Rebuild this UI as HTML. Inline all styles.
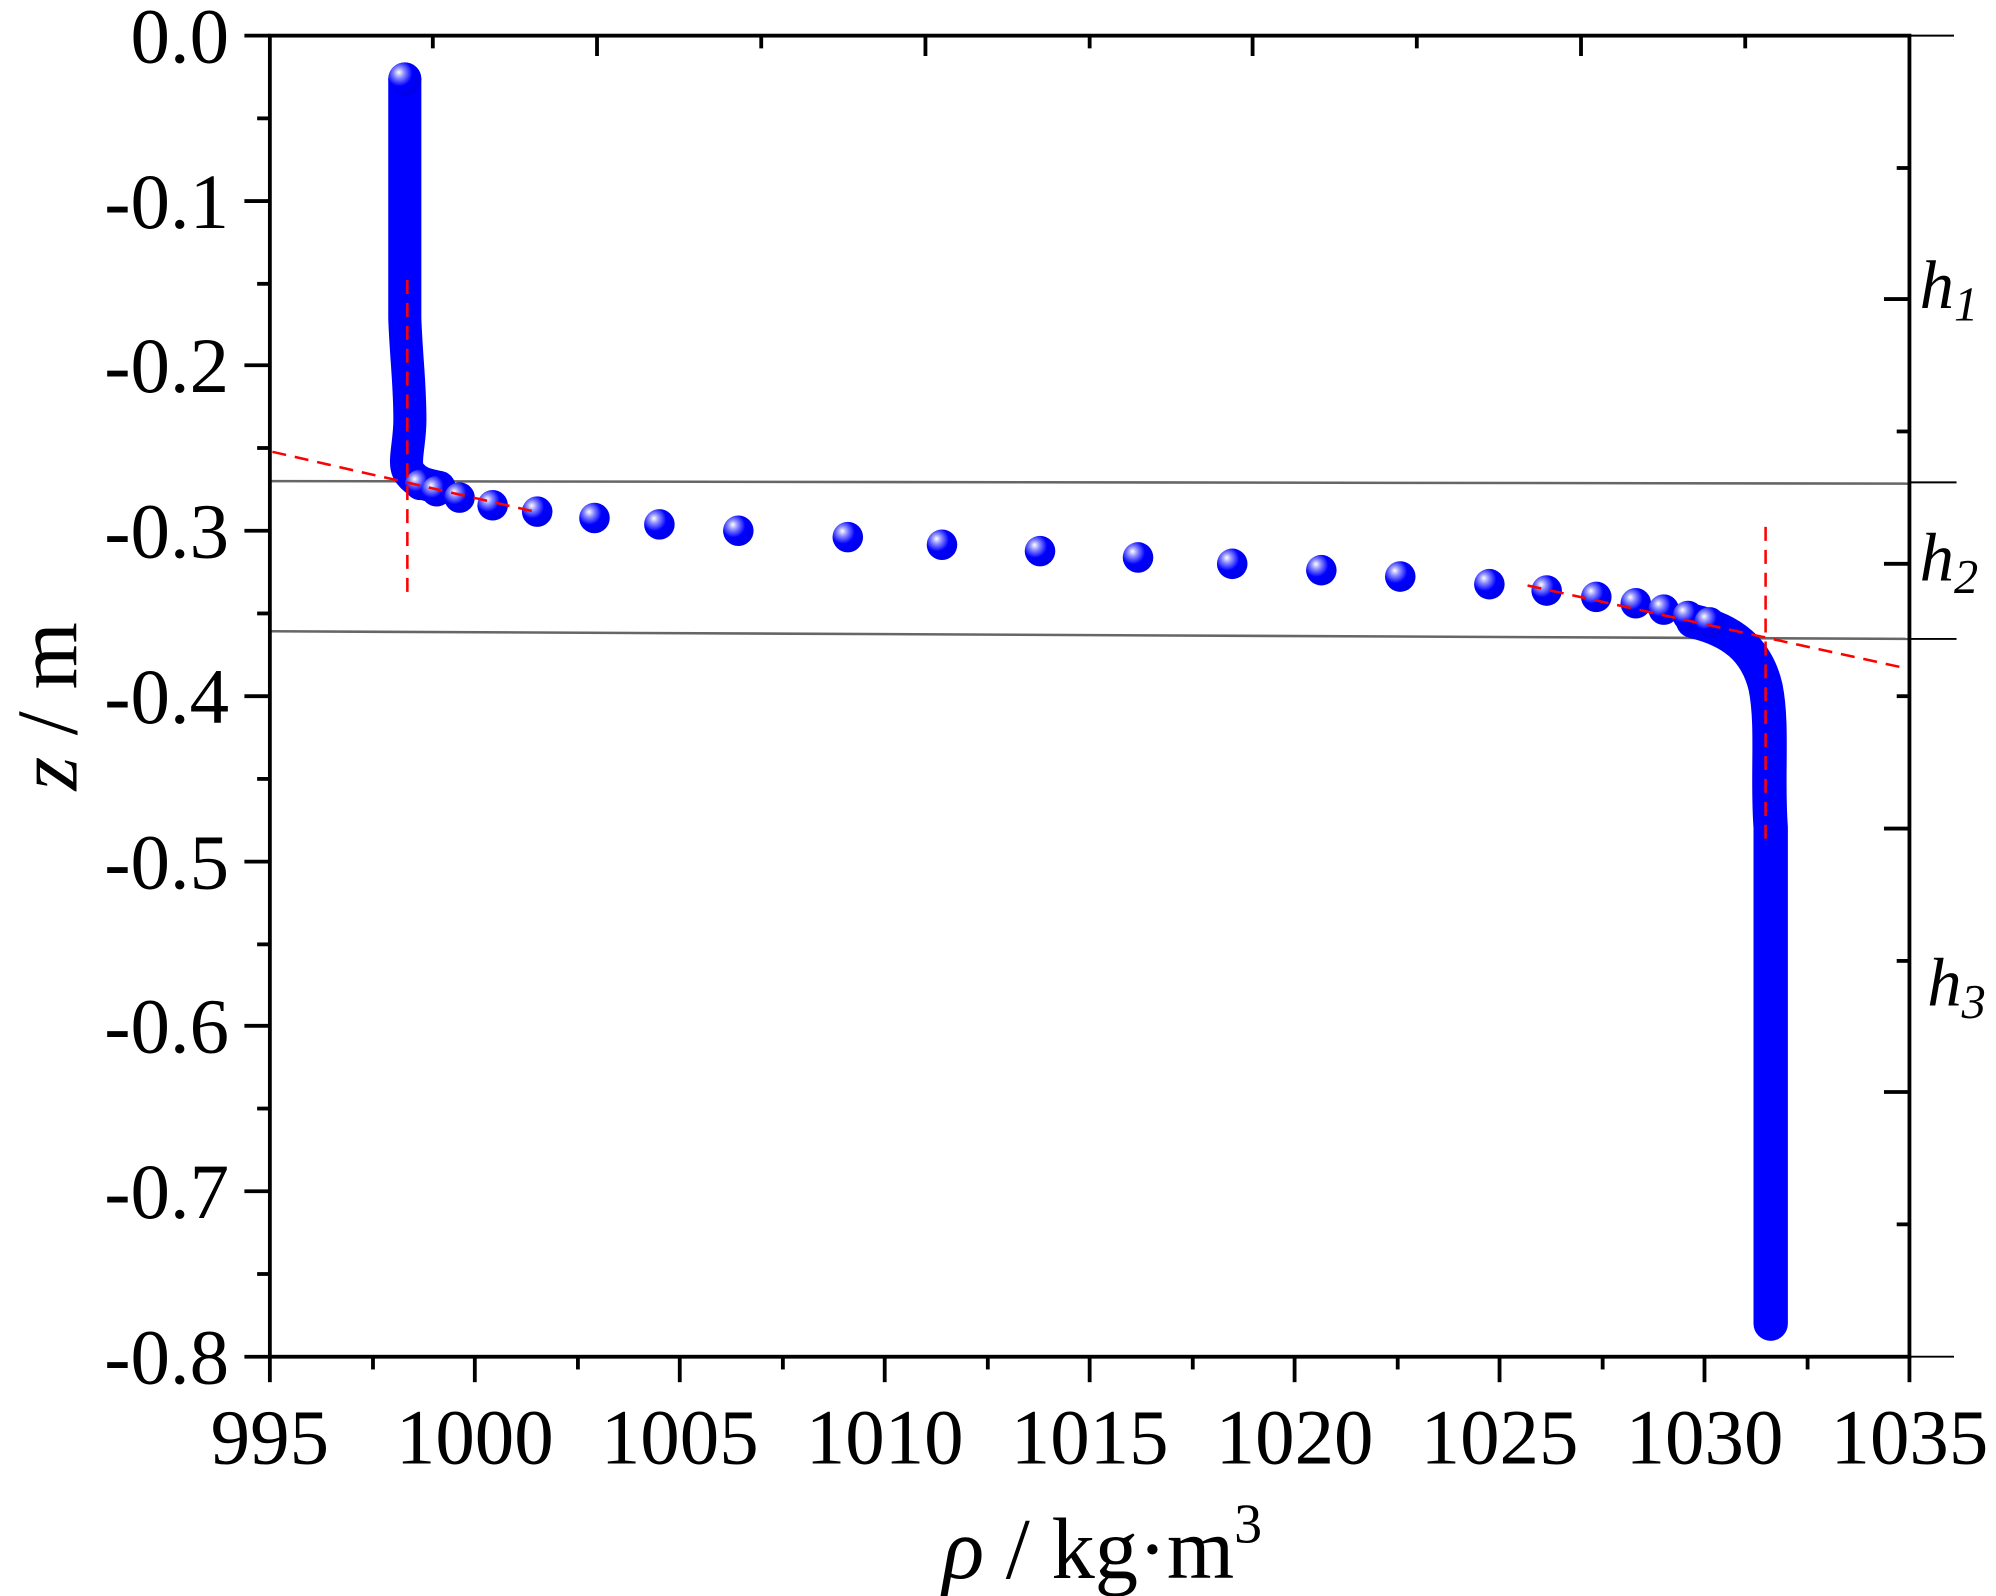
<!DOCTYPE html>
<html><head><meta charset="utf-8"><style>html,body{margin:0;padding:0;background:#fff}svg{display:block}</style></head>
<body>
<svg width="1996" height="1596" viewBox="0 0 1568 1254" preserveAspectRatio="none" xmlns="http://www.w3.org/2000/svg" font-family="'Liberation Serif', serif">
<defs>
<radialGradient id="g" cx="0.35" cy="0.35" r="0.65" fx="0.32" fy="0.3">
<stop offset="0" stop-color="#fff"/><stop offset="0.25" stop-color="#8a8aff"/><stop offset="0.6" stop-color="#0000ff"/><stop offset="1" stop-color="#0000e8"/></radialGradient>
</defs>
<rect width="1568" height="1254" fill="#fff"/>
<line x1="212" y1="378" x2="1500" y2="380" stroke="#666" stroke-width="2"/>
<line x1="1500" y1="379" x2="1537" y2="379" stroke="#000" stroke-width="1.5"/>
<line x1="212" y1="496" x2="1500" y2="502" stroke="#666" stroke-width="2"/>
<line x1="1500" y1="502" x2="1537" y2="502" stroke="#000" stroke-width="1.5"/>
<line x1="1500" y1="28" x2="1535" y2="28" stroke="#000" stroke-width="1.5"/>
<line x1="1500" y1="1066" x2="1535" y2="1066" stroke="#000" stroke-width="1.5"/>
<path d="M318,62 L318,250 C319,280 322,300 322,330 C322,350 316,365 322,372 C328,380 336,381 345,383" fill="none" stroke="#0000ff" stroke-width="26" stroke-linecap="round" stroke-linejoin="round"/>
<path d="M1330,488 C1360,495 1380,510 1387,540 C1393,570 1388,610 1391,650 L1391,1040" fill="none" stroke="#0000ff" stroke-width="27" stroke-linecap="round" stroke-linejoin="round"/>
<circle cx="318" cy="62" r="13" fill="url(#g)"/>
<g fill="url(#g)">
<circle cx="330" cy="381" r="12"/><circle cx="343" cy="386" r="12"/><circle cx="361" cy="391" r="12"/><circle cx="387" cy="397" r="12"/><circle cx="422" cy="402" r="12"/><circle cx="467" cy="407" r="12"/><circle cx="518" cy="412" r="12"/><circle cx="580" cy="417" r="12"/><circle cx="666" cy="422" r="12"/><circle cx="740" cy="428" r="12"/><circle cx="817" cy="433" r="12"/><circle cx="894" cy="438" r="12"/><circle cx="968" cy="443" r="12"/><circle cx="1038" cy="448" r="12"/><circle cx="1100" cy="453" r="12"/><circle cx="1170" cy="459" r="12"/><circle cx="1215" cy="464" r="12"/><circle cx="1254" cy="469" r="12"/><circle cx="1285" cy="474" r="12"/><circle cx="1307" cy="479" r="12"/><circle cx="1326" cy="484" r="12"/><circle cx="1343" cy="489" r="12"/>
</g>
<g stroke="#ff0000" stroke-width="2" stroke-dasharray="11,7" fill="none">
<line x1="320" y1="220" x2="320" y2="470"/>
<line x1="214" y1="355" x2="420" y2="402"/>
<line x1="1200" y1="460" x2="1497" y2="525"/>
<line x1="1387" y1="414" x2="1387" y2="665"/>
</g>
<rect x="212" y="28" width="1288" height="1038" fill="none" stroke="#000" stroke-width="3"/>
<g stroke="#000" stroke-width="3">
<line x1="192" y1="28" x2="212" y2="28"/><line x1="202" y1="93" x2="212" y2="93"/>
<line x1="192" y1="158" x2="212" y2="158"/><line x1="202" y1="223" x2="212" y2="223"/>
<line x1="192" y1="287" x2="212" y2="287"/><line x1="202" y1="352" x2="212" y2="352"/>
<line x1="192" y1="417" x2="212" y2="417"/><line x1="202" y1="482" x2="212" y2="482"/>
<line x1="192" y1="547" x2="212" y2="547"/><line x1="202" y1="612" x2="212" y2="612"/>
<line x1="192" y1="677" x2="212" y2="677"/><line x1="202" y1="742" x2="212" y2="742"/>
<line x1="192" y1="806" x2="212" y2="806"/><line x1="202" y1="871" x2="212" y2="871"/>
<line x1="192" y1="936" x2="212" y2="936"/><line x1="202" y1="1001" x2="212" y2="1001"/>
<line x1="192" y1="1066" x2="212" y2="1066"/>
<line x1="212" y1="1066" x2="212" y2="1086"/><line x1="293" y1="1066" x2="293" y2="1076"/>
<line x1="373" y1="1066" x2="373" y2="1086"/><line x1="454" y1="1066" x2="454" y2="1076"/>
<line x1="534" y1="1066" x2="534" y2="1086"/><line x1="615" y1="1066" x2="615" y2="1076"/>
<line x1="695" y1="1066" x2="695" y2="1086"/><line x1="776" y1="1066" x2="776" y2="1076"/>
<line x1="856" y1="1066" x2="856" y2="1086"/><line x1="937" y1="1066" x2="937" y2="1076"/>
<line x1="1017" y1="1066" x2="1017" y2="1086"/><line x1="1098" y1="1066" x2="1098" y2="1076"/>
<line x1="1178" y1="1066" x2="1178" y2="1086"/><line x1="1259" y1="1066" x2="1259" y2="1076"/>
<line x1="1339" y1="1066" x2="1339" y2="1086"/><line x1="1420" y1="1066" x2="1420" y2="1076"/>
<line x1="1500" y1="1066" x2="1500" y2="1086"/>
<line x1="340" y1="28" x2="340" y2="38"/><line x1="469" y1="28" x2="469" y2="44"/>
<line x1="598" y1="28" x2="598" y2="38"/><line x1="727" y1="28" x2="727" y2="44"/>
<line x1="856" y1="28" x2="856" y2="38"/><line x1="984" y1="28" x2="984" y2="44"/>
<line x1="1113" y1="28" x2="1113" y2="38"/><line x1="1242" y1="28" x2="1242" y2="44"/>
<line x1="1371" y1="28" x2="1371" y2="38"/>
<line x1="1490" y1="132" x2="1500" y2="132"/><line x1="1480" y1="235" x2="1500" y2="235"/>
<line x1="1490" y1="339" x2="1500" y2="339"/><line x1="1480" y1="443" x2="1500" y2="443"/>
<line x1="1490" y1="547" x2="1500" y2="547"/><line x1="1480" y1="651" x2="1500" y2="651"/>
<line x1="1490" y1="755" x2="1500" y2="755"/><line x1="1480" y1="858" x2="1500" y2="858"/>
<line x1="1490" y1="962" x2="1500" y2="962"/>
</g>
<g font-size="62" text-anchor="end" fill="#000">
<text x="180" y="49">0.0</text><text x="180" y="179">-0.1</text><text x="180" y="308">-0.2</text>
<text x="180" y="438">-0.3</text><text x="180" y="568">-0.4</text><text x="180" y="698">-0.5</text>
<text x="180" y="827">-0.6</text><text x="180" y="957">-0.7</text><text x="180" y="1087">-0.8</text>
</g>
<g font-size="62" text-anchor="middle" fill="#000">
<text x="212" y="1150">995</text><text x="373" y="1150">1000</text><text x="534" y="1150">1005</text>
<text x="695" y="1150">1010</text><text x="856" y="1150">1015</text><text x="1017" y="1150">1020</text>
<text x="1178" y="1150">1025</text><text x="1339" y="1150">1030</text><text x="1500" y="1150">1035</text>
</g>
<text transform="translate(60,555) rotate(-90)" font-size="68" text-anchor="middle"><tspan font-style="italic">z</tspan> / m</text>
<text x="866" y="1240" font-size="68" text-anchor="middle"><tspan font-style="italic">ρ</tspan> / kg·m<tspan font-size="44" dy="-28">3</tspan></text>
<g font-style="italic" fill="#000">
<text x="1508" y="242" font-size="54">h<tspan font-size="38" dy="10">1</tspan></text>
<text x="1508" y="456" font-size="54">h<tspan font-size="38" dy="10">2</tspan></text>
<text x="1514" y="790" font-size="54">h<tspan font-size="38" dy="10">3</tspan></text>
</g>
</svg>
</body></html>
